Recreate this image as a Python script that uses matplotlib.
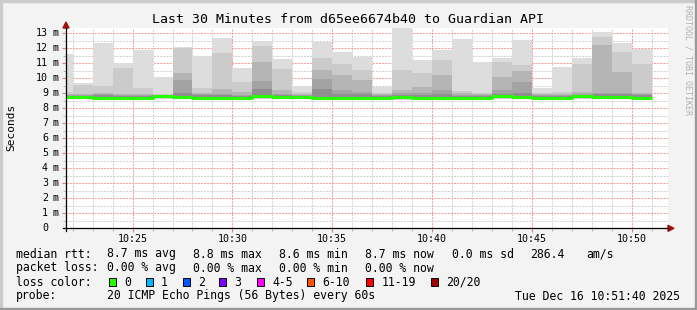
import numpy as np
import matplotlib
matplotlib.use("Agg")
import matplotlib.pyplot as plt
import matplotlib.transforms as mtransforms
from matplotlib.patches import Rectangle, Polygon
from matplotlib.lines import Line2D

W, H = 697, 310

# minutes after 10:00, first bar starts at 10:21:40
bar_starts = [21 + 40 / 60] + list(range(22, 51))
bar_end = 51

# smoke levels in ms (outermost/lightest first)
smoke_l1 = [11.6, 9.69, 12.35, 11.04, 11.89, 10.09, 12.09, 11.51, 12.67, 10.67,
            12.51, 11.29, 9.51, 12.44, 11.73, 11.42, 9.42, 13.37, 11.22, 11.89,
            12.62, 11.06, 11.38, 12.55, 9.33, 10.75, 11.38, 13.06, 12.38, 11.97]
smoke_l2 = [9.1, 9.53, 9.47, 10.7, 9.38, 8.95, 12.0, 9.38, 11.69, 9.78,
            12.15, 10.62, 9.11, 11.38, 10.93, 10.55, 9.0, 10.53, 10.37, 11.22,
            9.15, 9.0, 11.1, 10.9, 9.05, 9.07, 10.97, 12.75, 11.78, 10.93]
smoke_l3 = [8.95, 8.95, 9.0, 8.95, 8.95, 8.92, 10.35, 9.0, 9.3, 9.1,
            11.1, 9.22, 8.95, 10.55, 10.22, 9.89, 8.95, 9.22, 9.42, 10.22,
            9.0, 8.95, 10.1, 10.5, 8.95, 8.95, 9.1, 12.22, 10.44, 9.0]
smoke_l4 = [8.9, 8.9, 8.95, 8.9, 8.9, 8.9, 9.89, 8.95, 8.95, 8.9,
            9.82, 8.95, 8.9, 9.95, 9.2, 9.1, 8.9, 9.0, 9.0, 9.2,
            8.9, 8.9, 9.2, 9.78, 8.9, 8.9, 8.95, 9.0, 9.0, 8.95]
smoke_l5 = [8.85, 8.85, 8.9, 8.85, 8.85, 8.85, 9.0, 8.9, 8.9, 8.85,
            9.29, 8.9, 8.85, 9.29, 8.95, 8.95, 8.85, 8.9, 8.9, 8.95,
            8.85, 8.85, 8.95, 9.0, 8.85, 8.85, 8.9, 8.95, 8.95, 8.9]
median = [8.75, 8.75, 8.68, 8.68, 8.72, 8.82, 8.75, 8.72, 8.72, 8.66,
          8.82, 8.78, 8.76, 8.72, 8.66, 8.72, 8.72, 8.74, 8.72, 8.7,
          8.66, 8.7, 8.8, 8.76, 8.7, 8.7, 8.8, 8.74, 8.78, 8.68]
smoke_min = [8.6, 8.62, 8.58, 8.58, 8.6, 8.65, 8.6, 8.6, 8.6, 8.55,
             8.65, 8.62, 8.62, 8.6, 8.55, 8.6, 8.62, 8.55, 8.6, 8.6,
             8.56, 8.6, 8.65, 8.62, 8.6, 8.6, 8.65, 8.6, 8.62, 8.58]

shades = ["#dddddd", "#cbcbcb", "#b5b5b5", "#a3a3a3", "#8f8f8f"]

loss_labels = ["0", "1", "2", "3", "4-5", "6-10", "11-19", "20/20"]
loss_colors = ["#26ff00", "#00b8ff", "#0059ff", "#7e00ff", "#ff00ff", "#ff5500", "#ff0000", "#a00000"]

mono = "DejaVu Sans Mono"


def P(x, y):
    return x / W, 1 - y / H


fig = plt.figure(figsize=(W / 100, H / 100), dpi=100)
fig.patch.set_facecolor("#f3f3f3")

left, right, top, bottom = 66, 668, 28, 228.3
ax = fig.add_axes([left / W, 1 - bottom / H, (right - left) / W, (bottom - top) / H])
ax.set_facecolor("white")
x0 = bar_starts[0]
ax.set_xlim(x0, x0 + (right - left) / 19.97)
ax.set_ylim(0, (bottom - top) / 15.0)

xe = np.array(bar_starts + [bar_end])


def ext(a):
    return np.array(a + [a[-1]])


# smoke, lightest (widest) first
ax.fill_between(xe, ext(smoke_min), ext(smoke_l1), step="post", color=shades[0], lw=0, zorder=2)
levels = [smoke_l2, smoke_l3, smoke_l4, smoke_l5]
for lv, c in zip(levels, shades[1:]):
    ax.fill_between(xe, ext(median), ext(lv), step="post", color=c, lw=0, zorder=2)
ax.fill_between(xe, ext(smoke_min), ext(median), step="post", color="#d2d2d2", lw=0, zorder=2)

# median line
ax.plot(xe, ext(median), drawstyle="steps-post", color="#26ff00", lw=2.2,
        solid_capstyle="butt", zorder=4)

# grid
ax.set_xticks(list(range(25, 51, 5)))
ax.set_xticklabels(["10:%02d" % m for m in range(25, 51, 5)], fontsize=7.2, family=mono)
ax.set_xticks([m for m in range(22, 52) if m % 5], minor=True)
ax.set_yticks(range(1, 14))
ax.set_yticks(np.arange(0.5, 13.4, 1.0), minor=True)
ax.set_yticklabels([])
ax.grid(which="major", color="#f2a0a0", lw=0.75, ls=(0, (2, 1)), zorder=3)
ax.grid(which="minor", color="#d4d4d4", lw=0.75, ls=(0, (2, 1)), zorder=3)
ax.tick_params(axis="x", which="major", length=3, color="#e08080", pad=1)
ax.tick_params(axis="x", which="minor", length=2, color="#aaaaaa")
ax.tick_params(axis="y", which="major", length=3, color="#e08080")
ax.tick_params(axis="y", which="minor", length=2, color="#aaaaaa")
for s in ax.spines.values():
    s.set_visible(False)

# y tick labels: number right aligned, unit after it
btr = mtransforms.blended_transform_factory(fig.transFigure, ax.transData)
for v in range(0, 14):
    ax.text(48 / W, v, str(v), transform=btr, ha="right", va="center",
            fontsize=7.2, family=mono)
    if v > 0:
        ax.text(53 / W, v, "m", transform=btr, ha="left", va="center",
                fontsize=7.2, family=mono)

# axes lines with arrows
fig.add_artist(Line2D([P(63, 0)[0], P(668, 0)[0]], [P(0, 228.3)[1]] * 2,
                      color="#000000", lw=0.9, transform=fig.transFigure))
fig.add_artist(Line2D([P(66, 0)[0]] * 2, [P(0, 231)[1], P(0, 28)[1]],
                      color="#000000", lw=0.9, transform=fig.transFigure))
fig.add_artist(Polygon([P(668, 225.3), P(674, 228.3), P(668, 231.3)], closed=True,
                       color="#a01010", transform=fig.transFigure))
fig.add_artist(Polygon([P(63, 28), P(66, 22), P(69, 28)], closed=True,
                       color="#a01010", transform=fig.transFigure))

# title and labels
fig.text(*P(348, 19.5), "Last 30 Minutes from d65ee6674b40 to Guardian API",
         ha="center", va="center", fontsize=9.55, family=mono)
fig.text(*P(11, 127), "Seconds", rotation=90, ha="center", va="center",
         fontsize=8, family=mono)
fig.text(*P(688, 60), "RRDTOOL / TOBI OETIKER", rotation=270, ha="center", va="center",
         fontsize=6, family=mono, color="#b0b0b0")

fs = 8.3
line1 = [(16, "median rtt:"), (107.3, "8.7 ms avg"), (193.3, "8.8 ms max"),
         (279.3, "8.6 ms min"), (365.3, "8.7 ms now"), (451.7, "0.0 ms sd"),
         (530.3, "286.4"), (586.3, "am/s")]
line2 = [(16, "packet loss:"), (107.3, "0.00 % avg"), (193.3, "0.00 % max"),
         (279.3, "0.00 % min"), (365.3, "0.00 % now")]
for x, t in line1:
    fig.text(*P(x, 254), t, ha="left", va="center", fontsize=fs, family=mono)
for x, t in line2:
    fig.text(*P(x, 268), t, ha="left", va="center", fontsize=fs, family=mono)

fig.text(*P(16, 282), "loss color:", ha="left", va="center", fontsize=fs, family=mono)
box_x = [108.7, 145.7, 182.7, 219.3, 256.7, 307.3, 366, 430.7]
for bx, lab, col in zip(box_x, loss_labels, loss_colors):
    fig.add_artist(Rectangle(P(bx, 286), 7 / W, 8 / H, facecolor=col, edgecolor="black",
                             lw=0.7, transform=fig.transFigure))
    fig.text(*P(bx + 15.3, 282), lab, ha="left", va="center", fontsize=fs, family=mono)

fig.text(*P(16, 296), "probe:", ha="left", va="center", fontsize=fs, family=mono)
fig.text(*P(107.3, 296), "20 ICMP Echo Pings (56 Bytes) every 60s", ha="left", va="center",
         fontsize=fs, family=mono)
fig.text(*P(680.3, 296), "Tue Dec 16 10:51:40 2025", ha="right", va="center",
         fontsize=fs, family=mono)

# image frame
fig.add_artist(Rectangle((0, 1 - 2 / H), 1, 2 / H, color="#cbcbcb", transform=fig.transFigure))
fig.add_artist(Rectangle((0, 0), 2 / W, 1, color="#cbcbcb", transform=fig.transFigure))
fig.add_artist(Rectangle((0, 0), 1, 2 / H, color="#999999", transform=fig.transFigure))
fig.add_artist(Rectangle((1 - 2 / W, 0), 2 / W, 1, color="#999999", transform=fig.transFigure))

fig.savefig("out.png", dpi=100, facecolor=fig.get_facecolor())
